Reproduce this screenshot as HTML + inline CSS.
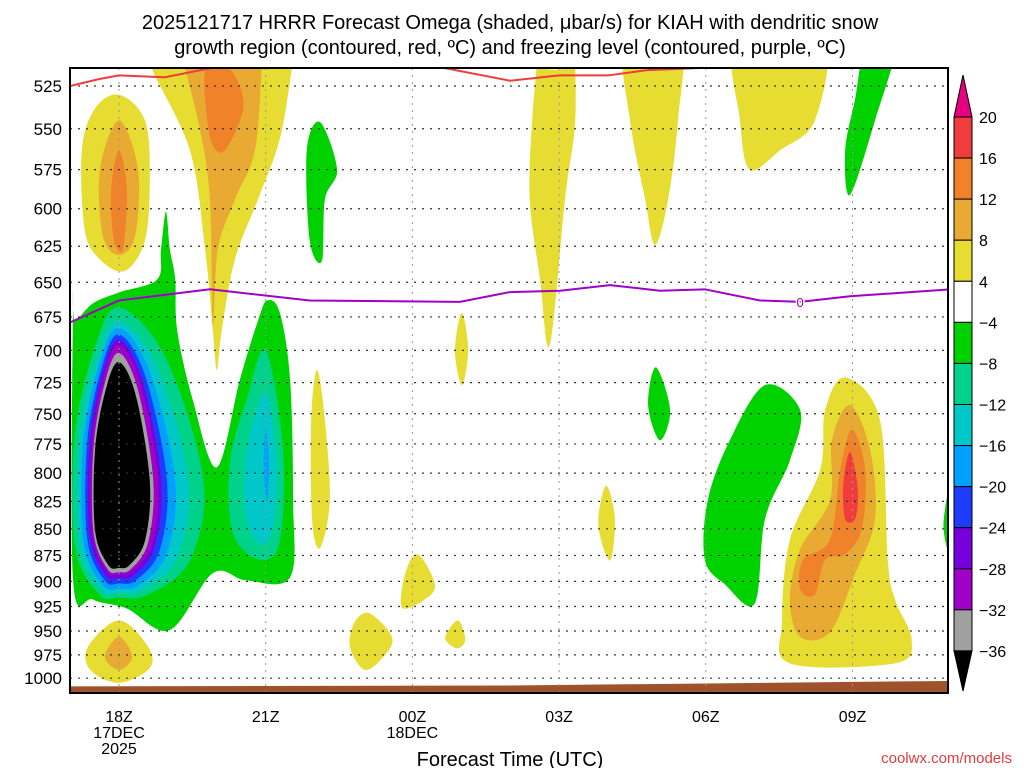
<!DOCTYPE html>
<html><head><meta charset="utf-8">
<style>
html,body{margin:0;padding:0;background:#fff;}
svg{display:block;font-family:"Liberation Sans",sans-serif;}
</style></head>
<body>
<svg id="chart" width="1024" height="768" viewBox="0 0 1024 768" xmlns="http://www.w3.org/2000/svg">
<text x="510" y="29" text-anchor="middle" font-size="20" fill="#000">2025121717 HRRR Forecast Omega (shaded, μbar/s) for KIAH with dendritic snow</text>
<text x="510" y="54" text-anchor="middle" font-size="20" fill="#000">growth region (contoured, red, ºC) and freezing level (contoured, purple, ºC)</text>
<defs><clipPath id="plotclip"><rect x="70" y="68" width="878" height="625"/></clipPath></defs>
<g id="fills" clip-path="url(#plotclip)"></g>
<g id="grid"></g>
<g id="lines" clip-path="url(#plotclip)"></g>
<rect x="70" y="68" width="878" height="625" fill="none" stroke="#000" stroke-width="2"/>
<g id="axes"></g>
<g id="cbar"></g>
<text x="510" y="766" text-anchor="middle" font-size="20">Forecast Time (UTC)</text>
<text x="1012" y="763" text-anchor="end" font-size="15" fill="#e03c3c">coolwx.com/models</text>
</svg>
<script>
const pressureTicks=[525,550,575,600,625,650,675,700,725,750,775,800,825,850,875,900,925,950,975,1000];
const timeTicks=[0,3,6,9,12,15];
const timeLabels=[["18Z","17DEC","2025"],["21Z"],["00Z","18DEC"],["03Z"],["06Z"],["09Z"]];
const cbarLabels=[20,16,12,8,4,-4,-8,-12,-16,-20,-24,-28,-32,-36];
const cbarColors=["#f03c3c","#f0822a","#e8aa32","#e6dc32","#ffffff","#00d200","#00d28c","#00c8c8","#00a0ff","#1e3cff","#7800dc","#a000c8","#a0a0a0"];
const coreColors=["#00d28c","#00c8c8","#00a0ff","#1e3cff","#7800dc","#a000c8","#a0a0a0","#000000"];
const coreTop=[668,678,683,688,692,696,702,709];
const coreBot=[916,911,907,902,897,893,891,887];
const coreLeft=[-0.9,-0.8,-0.73,-0.65,-0.6,-0.55,-0.52,-0.49];
const coreRight=[1.72,1.41,1.15,0.98,0.86,0.8,0.7,0.63];
const blobs=[
["#00d200",[[-0.94,668],[-0.94,898],[-0.53,918],[0.16,927],[1.04,949],[1.92,892],[2.6,899],[3.5,896],[3.56,823],[3.5,723],[3.29,672],[3.03,663],[2.84,678],[2.47,723],[2.0,795],[1.51,739],[1.19,685],[1.15,648],[1.04,627],[0.96,602],[0.86,627],[0.78,648],[0.02,657],[-0.53,665],[-0.9,678]]],
["#00d28c",[[3.0,700],[3.35,778],[3.29,861],[2.88,879],[2.33,854],[2.27,791],[2.62,737]]],
["#00c8c8",[[3.0,733],[3.23,791],[3.15,849],[2.88,864],[2.58,836],[2.62,778]]],
["#00a0ff",[[3.0,762],[3.07,794],[3.02,825],[2.96,794]]],
["#e6dc32",[[0,530],[0.53,545],[0.63,581],[0.53,621],[0.12,642],[-0.39,634],[-0.7,614],[-0.76,563],[-0.49,538]]],
["#e8aa32",[[0,545],[0.39,575],[0.33,618],[0,631],[-0.33,618],[-0.39,575]]],
["#f0822a",[[0,563],[0.16,587],[0.1,624],[0,628],[-0.12,618],[-0.16,587]]],
["#e6dc32",[[0.6,500],[0.67,515],[1.45,563],[1.76,627],[1.92,685],[2.0,715],[2.1,685],[2.37,634],[2.84,594],[3.29,556],[3.54,514],[3.6,500]]],
["#e8aa32",[[1.3,500],[1.35,514],[1.66,551],[1.86,594],[1.92,682],[2.02,627],[2.37,594],[2.78,563],[2.92,514],[2.95,500]]],
["#f0822a",[[1.76,517],[2.05,513],[2.37,519],[2.54,538],[2.17,563],[1.9,559],[1.78,538]]],
["#00d200",[[4.11,546],[4.46,575],[4.21,594],[4.15,635],[3.9,621],[3.84,563]]],
["#e6dc32",[[4.05,715],[4.21,755],[4.31,824],[4.11,868],[3.95,842],[3.93,755]]],
["#e6dc32",[[5.13,932],[5.58,956],[5.44,975],[5.03,991],[4.72,966],[4.83,940]]],
["#e6dc32",[[6.11,874],[6.46,903],[6.25,918],[5.79,926],[5.85,893]]],
["#e6dc32",[[6.93,939],[7.08,959],[6.91,968],[6.67,957]]],
["#e6dc32",[[7.01,672],[7.14,700],[7.01,727],[6.87,700]]],
["#e6dc32",[[8.6,500],[8.61,514],[9.22,514],[9.3,500],[9.33,545],[9.12,594],[8.81,696],[8.61,648],[8.4,594],[8.45,545]]],
["#e6dc32",[[10.35,500],[11.47,500],[11.43,545],[11.23,594],[10.96,624],[10.76,594],[10.45,545]]],
["#e6dc32",[[12.64,500],[14.38,500],[14.23,545],[13.52,563],[12.9,575],[12.7,545]]],
["#00d200",[[15.3,500],[15.9,500],[15.46,545],[14.95,591],[14.85,563],[15.05,533]]],
["#e6dc32",[[9.96,811],[10.14,841],[10.04,880],[9.8,846]]],
["#00d200",[[10.98,713],[11.27,747],[11.06,772],[10.82,743]]],
["#00d200",[[13.21,727],[13.93,747],[13.72,789],[13.21,841],[13.0,922],[12.39,903],[11.98,879],[12.04,824],[12.49,772]]],
["#e6dc32",[[14.85,721],[15.56,755],[15.72,879],[15.87,918],[16.21,959],[15.87,984],[13.72,984],[13.56,939],[13.72,860],[14.34,797],[14.44,747]]],
["#e8aa32",[[14.95,743],[15.36,780],[15.46,841],[15.05,893],[14.54,951],[13.93,956],[13.72,918],[13.93,869],[14.54,824],[14.58,772]]],
["#f0822a",[[14.99,763],[15.26,797],[15.19,850],[14.85,874],[14.44,879],[14.23,913],[13.93,908],[13.99,879],[14.54,860],[14.75,797]]],
["#f03c3c",[[14.95,782],[15.11,815],[15.05,841],[14.85,841],[14.81,811]]],
["#00d200",[[17.0,811],[16.86,847],[17.0,873]]],
["#e6dc32",[[0,939],[0.59,966],[0.63,989],[0,1005],[-0.59,991],[-0.63,966]]],
["#e8aa32",[[0,956],[0.27,977],[0,991],[-0.29,977]]]
];
const dgzHours=[-1,-0.4,0,0.94,1.86,2.5,5,6.5,8,9,10,10.8,12.6,14,17];
const dgzPress=[525,521,519,520,515,511,511,514,522,519,519,516,514,511,511];
const frzHours=[-1,0,1.86,3.9,6.97,7.99,9.02,10.04,11.06,11.98,13.11,13.93,14.95,17];
const frzPress=[679,663,655,663,664,657,656,652,656,655,663,664,660,655];
const groundHours=[-1,8,17];
const groundPress=[1009,1008,1003];

const NS="http://www.w3.org/2000/svg";
const X=h=>119+h*48.9;
const Y=p=>86+919*Math.log(p/525);
function mk(tag,attrs,parent){const e=document.createElementNS(NS,tag);for(const k in attrs)e.setAttribute(k,attrs[k]);parent.appendChild(e);return e;}
function smooth(pts){
  const n=pts.length;let d=`M${pts[0][0]},${pts[0][1]}`;
  for(let i=0;i<n;i++){const p0=pts[(i-1+n)%n],p1=pts[i],p2=pts[(i+1)%n],p3=pts[(i+2)%n];
    const c1=[p1[0]+(p2[0]-p0[0])/6,p1[1]+(p2[1]-p0[1])/6],c2=[p2[0]-(p3[0]-p1[0])/6,p2[1]-(p3[1]-p1[1])/6];
    d+=`C${c1[0]},${c1[1]} ${c2[0]},${c2[1]} ${p2[0]},${p2[1]}`;}
  return d+"Z";}
const fills=document.getElementById('fills');
function drawBlob(color,pts,name){
  const e=mk('path',{d:smooth(pts.map(q=>[X(q[0]),Y(q[1])])),fill:color},fills);
  
  
}
drawBlob(blobs[0][0],blobs[0][1],'omega-region-0');
for(let i=0;i<coreColors.length;i++){
  const t=coreTop[i],b=coreBot[i],L=coreLeft[i],R=coreRight[i],s=b-t;
  const pts=[[0,t],[R*0.55,t+s*0.15],[R,t+s*0.55],[R*0.85,t+s*0.85],[R*0.35,b-3],[0,b],[L*0.45,b-3],[L,t+s*0.8],[L,t+s*0.4],[L*0.55,t+s*0.12]];
  drawBlob(coreColors[i],pts,'omega-core-ring-'+i);
}
for(let i=1;i<blobs.length;i++)drawBlob(blobs[i][0],blobs[i][1],'omega-region-'+i);
const gp=groundHours.map((h,i)=>`${X(h)},${Y(groundPress[i])}`).join(' ');
const ground=mk('polygon',{points:gp+` ${X(17)},700 ${X(-1)},700`,fill:"#a0522d"},fills);


const grid=document.getElementById('grid');
pressureTicks.forEach(p=>{const l=mk('line',{x1:70,x2:948,y1:Y(p),y2:Y(p),stroke:"#333","stroke-width":1.2,"stroke-dasharray":"2,6"},grid);
  
  });
timeTicks.forEach(h=>{const l=mk('line',{x1:X(h),x2:X(h),y1:68,y2:693,stroke:"#999","stroke-width":1,"stroke-dasharray":"2,5"},grid);
  
  });
const lines=document.getElementById('lines');
const dgz=mk('polyline',{points:dgzHours.map((h,i)=>`${X(h)},${Y(dgzPress[i])}`).join(' '),fill:"none",stroke:"#f03c3c","stroke-width":2},lines);


const frz=mk('polyline',{points:frzHours.map((h,i)=>`${X(h)},${Y(frzPress[i])}`).join(' '),fill:"none",stroke:"#a000c8","stroke-width":2},lines);


const fl=mk('text',{x:X(13.93),y:Y(664)+5,"text-anchor":"middle","font-size":13,fill:"#a000c8",stroke:"#fff","stroke-width":3,"paint-order":"stroke"},lines);
fl.textContent="0";


const axes=document.getElementById('axes');
pressureTicks.forEach(p=>{const t=mk('text',{x:62,y:Y(p)+6,"text-anchor":"end","font-size":17},axes);t.textContent=p;
  
  });
timeTicks.forEach((h,i)=>{timeLabels[i].forEach((s,j)=>{const t=mk('text',{x:X(h),y:722+j*16,"text-anchor":"middle","font-size":16},axes);t.textContent=s;
  
  });});
const cb=document.getElementById('cbar');
const cy=i=>117+i*41.07;
cbarColors.forEach((c,i)=>{const r=mk('rect',{x:954,y:cy(i),width:18,height:41.07,fill:c,stroke:"#000","stroke-width":1},cb);
  
  });
const tt=mk('polygon',{points:`954,${cy(0)} 972,${cy(0)} 963,75`,fill:"#e6007f",stroke:"#000","stroke-width":1},cb);


const bt=mk('polygon',{points:`954,${cy(13)} 972,${cy(13)} 963,691`,fill:"#000",stroke:"#000","stroke-width":1},cb);


cbarLabels.forEach((v,i)=>{const t=mk('text',{x:979,y:cy(i)+6,"font-size":16},cb);t.textContent=v<0?"\u2212"+(-v):v;
  
  });
</script>
</body></html>
